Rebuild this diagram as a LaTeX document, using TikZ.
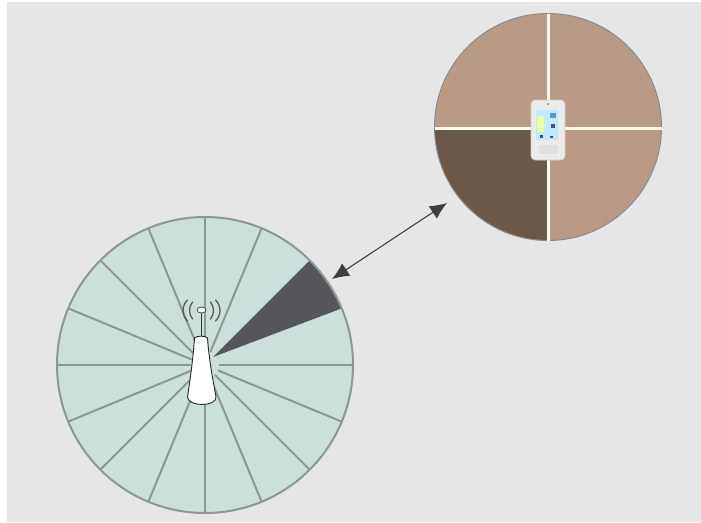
\documentclass[tikz,border=0pt]{standalone}
\usepackage{tikz}
\usetikzlibrary{arrows.meta,positioning,calc}
\definecolor{panelgrey}{HTML}{E6E6E6}
\definecolor{cellgreen}{HTML}{CCDFDB}
\definecolor{spokegrey}{HTML}{8B9996}
\definecolor{sectordark}{HTML}{55555B}
\definecolor{quadlight}{HTML}{B99B85}
\definecolor{quaddark}{HTML}{6C5848}
\tikzset{
  spoke/.style={spokegrey, line width=2pt},
  wave/.style={black!65, line width=1.3pt, line cap=round},
  link/.style={black!75, line width=1.1pt, {Latex[length=17pt,width=15pt]}-{Latex[length=17pt,width=15pt]}},
  cross/.style={white!92!yellow, line width=3pt}
}
\begin{document}
\begin{tikzpicture}[x=1pt,y=-1pt]
    \useasboundingbox (0,0) rectangle (701,522);
    \fill[white] (0,0) rectangle (701,522);
    \fill[panelgrey] (7,2) rectangle (701,522);

    % large cell
    \coordinate (bigcell) at (205,365);
    \fill[cellgreen] (bigcell) circle (148);
    \foreach \a in {0,22.5,...,292.5}
      \draw[spoke] ($(bigcell)+(\a:14)$) -- ($(bigcell)+(\a:148)$);
    \fill[sectordark] (213,357) -- ($(bigcell)+(-22.5:148)$) arc (-22.5:-45:148) -- cycle;
    \draw[spoke] (bigcell) circle (148);

    % tower
    \draw[black!85, line width=0.9pt, fill=white] (194.5,338) .. controls (197,335.5) and (205,335.5) .. (207.5,338)
      .. controls (209,360) and (213,380) .. (216,397) .. controls (216.5,407) and (188,407) .. (187.5,397)
      .. controls (190,380) and (193,360) .. (194.5,338) -- cycle;
    \draw[black!80, line width=0.9pt] (201.5,313) -- (201.5,336);
    \draw[black!70, line width=0.8pt, fill=white] (201.5,310) ellipse (4.5 and 3);
    \draw[wave] (192.5,302) .. controls (188.5,307) and (188.5,314) .. (192.5,319);
    \draw[wave] (187.5,300) .. controls (181.5,306) and (181.5,315) .. (187.5,321);
    \draw[wave] (210.5,302) .. controls (214.5,307) and (214.5,314) .. (210.5,319);
    \draw[wave] (215.5,300) .. controls (221.5,306) and (221.5,315) .. (215.5,321);

    % small cell
    \coordinate (smallcell) at (548,127);
    \fill[quadlight] (smallcell) circle (113.5);
    \fill[quaddark] (smallcell) -- ++(-113.5,0) arc (180:90:113.5) -- cycle;
    \draw[black!45, line width=1pt] (smallcell) circle (113.5);
    \draw[cross] (434.5,128) -- (661.5,128);
    \draw[cross] (548,13.5) -- (548,240.5);

    % handset
    \fill[white!92!black, draw=white!80!black, line width=0.6pt, rounded corners=4pt] (531,100) rectangle (565,160);
    \fill[black!55] (548,104) circle (1);
    \fill[cyan!25!white] (536,110) rectangle (558,140);
    \fill[green!25!yellow!35!white] (537,116) rectangle (544,132);
    \fill[cyan!60!blue!70!white] (550,113) rectangle (556,118);
    \fill[blue!40!black!70] (551,124) rectangle (555,128);
    \fill[blue!40!black!70] (540,135) rectangle (543,138);
    \fill[blue!40!black!70] (550,136) rectangle (553,138);
    \fill[black!12] (539,145) rectangle (558,154);

    % link
    \coordinate (cellend) at (332,279);
    \coordinate (userend) at (447,203);
    \draw[link] (cellend) -- (userend);
\end{tikzpicture}
\end{document}
